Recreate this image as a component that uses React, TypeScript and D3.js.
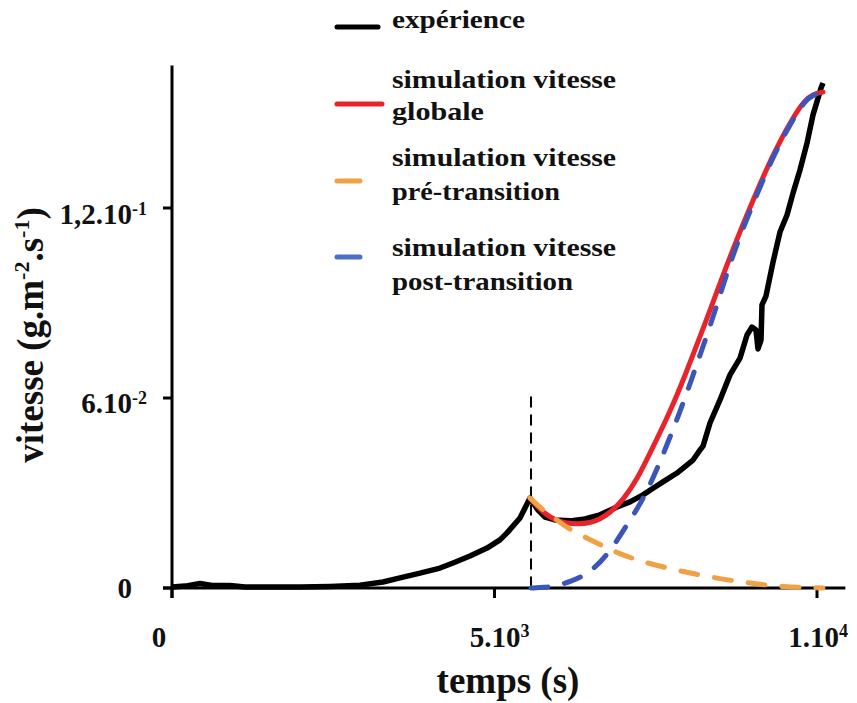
import React from 'react';
import * as d3 from 'd3';

// ---- data (time in s, velocity in 10^-3 g.m-2.s-1) ----
const expT = [0,202,434,620,899,1132,1364,1984,2450,2915,3271,3535,3845,4155,4357,4620,4884,5085,5194,5395,5550,5674,5783,5938,6171,6403,6636,6899,7101,7302,7488,7612,7829,8078,8186,8233,8341,8496,8651,8806,8915,8992,9054,9085,9132,9147,9209,9318,9426,9535,9628,9736,9845,9938,10016,10062,10093];
const expV = [0.3,0.6,1.4,0.8,0.8,0.3,0.3,0.3,0.5,0.9,1.9,3.2,4.7,6.3,7.9,10.1,12.6,15.2,17.4,22.1,28.4,24.6,22.4,21.5,21.2,21.8,23.1,25.6,27.2,29.4,31.9,33.5,36.3,40.4,43.6,44.8,52.1,59.4,67.3,72.6,79.9,82.4,81.5,75.5,78.3,89.4,92.2,102.9,112.4,117.8,124.7,132.0,140.5,149.4,154.7,157.9,159.5];

const globT = [5550,5659,5783,5938,6093,6295,6481,6636,6791,6992,7209,7457,7721,7953,8217,8388,8698,9008,9318,9628,9814,9938,10093];
const globV = [28.4,25.9,23.4,21.5,20.5,20.2,20.5,21.8,23.7,27.8,34.1,44.5,55.6,67.0,81.0,90.3,107.2,122.5,137.0,148.7,154.1,156.0,156.6];

const preT = [5550,5752,5969,6171,6589,6899,7256,7612,8233,8915,9473,10093];
const preV = [28.4,24.6,21.5,18.3,14.2,11.1,8.5,6.6,3.8,1.6,0.3,0];

const postT = [5566,5783,5938,6171,6481,6791,7070,7302,7535,7767,7984,8186,8388,8698,9008,9318,9628,9814,9938,10093];
const postV = [0,0.2,0.6,1.9,4.7,11.4,20.5,27.8,38.2,49.9,61.6,73.6,85.3,105.8,121.3,136.4,148.1,153.8,155.7,156.6];

const transitionT = 5566;
const transitionTop = 60.5;

const xTicks = [0, 5000, 10000];
const xTickBase = ['0', '5.10', '1.10'];
const xTickExp = ['', '3', '4'];
const yTicks = [0, 60, 120];
const yTickBase = ['0', '6.10', '1,2.10'];
const yTickExp = ['', '-2', '-1'];

const legendLabels = [
  ['expérience'],
  ['simulation vitesse', 'globale'],
  ['simulation vitesse', 'pré-transition'],
  ['simulation vitesse', 'post-transition'],
];

const COLORS = { exp: '#000000', glob: '#e8232a', pre: '#f0a045', post: '#3b55b9' };

const FONT = "'Liberation Serif', 'Times New Roman', serif";

export default function App() {
  const x = d3.scaleLinear().domain([0, 10000]).range([172, 817]);
  const y = d3.scaleLinear().domain([0, 120]).range([588, 208]);

  const mk = (ts: number[], vs: number[], curve: any) =>
    d3.line<number>().x((_, i) => x(ts[i])).y((d) => y(d)).curve(curve)(vs) || '';

  const expPath = mk(expT, expV, d3.curveLinear);
  const globPath = mk(globT, globV, d3.curveBasis);
  const prePath = mk(preT, preV, d3.curveBasis);
  const postPath = mk(postT, postV, d3.curveBasis);

  const xAxisEnd = x(10440);
  const yAxisTop = y(165);
  const x0 = x(0);
  const y0 = y(0);

  const xLabelDx = [-13, 5, 1];
  const yLabelDx = [-15, 0, 0];
  const yLabelDy = [10, 15, 16];

  // legend layout
  const legendLineY = [27, 104, 181, 257];
  const legendLineX2 = [378, 382, 360, 360];
  const legendTextY = [[28], [88, 120], [166, 200], [256, 290]];
  const legendTextLen: Record<string, number> = {
    'expérience': 133,
    'simulation vitesse': 224,
    'globale': 92,
    'pré-transition': 168,
    'post-transition': 181,
  };
  const legendColors = [COLORS.exp, COLORS.glob, COLORS.pre, '#4a70c6'];

  return (
    <svg
      width={857}
      height={703}
      style={{ position: 'absolute', left: 0, top: 0, background: '#fff' }}
      fontFamily={FONT}
      fontWeight="bold"
    >
      <rect x={0} y={0} width={857} height={703} fill="#fff" />

      {/* legend */}
      {legendLabels.map((lines, i) => (
        <g key={'lg' + i}>
          <line
            x1={337}
            x2={legendLineX2[i]}
            y1={legendLineY[i]}
            y2={legendLineY[i]}
            stroke={legendColors[i]}
            strokeWidth={5}
            strokeLinecap="round"
          />
          {lines.map((t, j) => (
            <text
              key={j}
              x={392}
              y={legendTextY[i][j]}
              fontSize={25}
              fill="#111"
              textLength={legendTextLen[t]}
              lengthAdjust="spacingAndGlyphs"
            >
              {t}
            </text>
          ))}
        </g>
      ))}

      {/* axes */}
      <line x1={x0} x2={x0} y1={yAxisTop} y2={y0 + 10} stroke="#000" strokeWidth={3} />
      <line x1={x0 - 9} x2={xAxisEnd} y1={y0} y2={y0} stroke="#000" strokeWidth={3} />
      {yTicks.map((t, i) => (
        <g key={'yt' + i}>
          <line x1={x0 - 9} x2={x0} y1={y(t)} y2={y(t)} stroke="#000" strokeWidth={3} />
          <text
            x={147 + yLabelDx[i]}
            y={y(t) + yLabelDy[i]}
            textAnchor="end"
            fontSize={29}
            fill="#111"
          >
            {yTickBase[i]}
            {yTickExp[i] && (
              <tspan fontSize={18} dy={-9}>
                {yTickExp[i]}
              </tspan>
            )}
          </text>
        </g>
      ))}
      {xTicks.map((t, i) => (
        <g key={'xt' + i}>
          <line x1={x(t)} x2={x(t)} y1={y0} y2={y0 + 10} stroke="#000" strokeWidth={3} />
          <text
            x={x(t) + xLabelDx[i]}
            y={647}
            textAnchor="middle"
            fontSize={29}
            fill="#111"
          >
            {xTickBase[i]}
            {xTickExp[i] && (
              <tspan fontSize={18} dy={-10}>
                {xTickExp[i]}
              </tspan>
            )}
          </text>
        </g>
      ))}

      {/* axis titles */}
      <text x={508} y={693} textAnchor="middle" fontSize={37} fill="#111">
        temps (s)
      </text>
      <text transform="translate(43,335) rotate(-90)" textAnchor="middle" fontSize={37} fill="#111">
        vitesse (g.m
        <tspan fontSize={22} dy={-14}>-2</tspan>
        <tspan dy={14}>.s</tspan>
        <tspan fontSize={22} dy={-14}>-1</tspan>
        <tspan dy={14}>)</tspan>
      </text>

      {/* series */}
      <path d={expPath} fill="none" stroke={COLORS.exp} strokeWidth={5.5} strokeLinejoin="round" />
      <line
        x1={x(transitionT)}
        x2={x(transitionT)}
        y1={y(transitionTop)}
        y2={y0}
        stroke="#000"
        strokeWidth={2}
        strokeDasharray="11,7"
      />
      <path d={globPath} fill="none" stroke={COLORS.glob} strokeWidth={5} strokeLinecap="round" />
      <path
        d={prePath}
        fill="none"
        stroke={COLORS.pre}
        strokeWidth={5}
        strokeLinecap="round"
        strokeDasharray="17,17"
      />
      <path
        d={postPath}
        fill="none"
        stroke={COLORS.post}
        strokeWidth={5}
        strokeLinecap="round"
        strokeDasharray="17,17"
      />
    </svg>
  );
}
